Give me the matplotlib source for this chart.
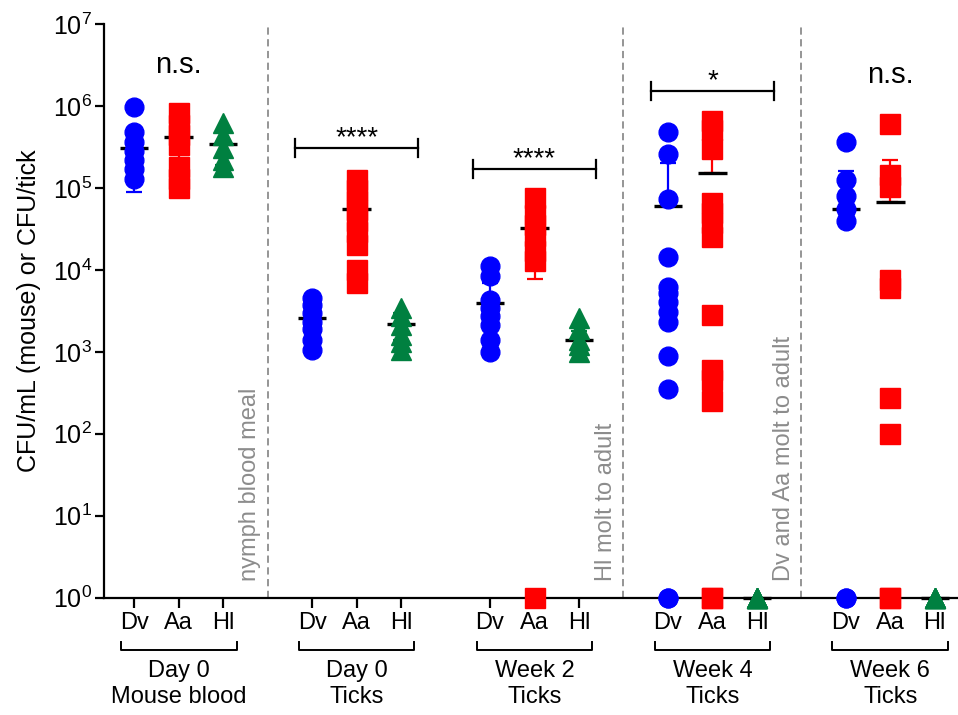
import numpy as np
import matplotlib
matplotlib.use("Agg")
import matplotlib.pyplot as plt
from matplotlib import transforms

plt.rcParams["font.family"] = ["Liberation Sans", "DejaVu Sans"]
plt.rcParams["mathtext.fontset"] = "custom"
plt.rcParams["mathtext.rm"] = "Liberation Sans"
plt.rcParams["mathtext.it"] = "Liberation Sans:italic"
plt.rcParams["mathtext.bf"] = "Liberation Sans:bold"

# ---- data (CFU/mL or CFU/tick; 0 = below detection) ----
species = ["Dv", "Aa", "Hl"]
timepoints = ["Day 0\nMouse blood", "Day 0\nTicks", "Week 2\nTicks", "Week 4\nTicks", "Week 6\nTicks"]

dv_d0_blood = [9.6e5, 4.8e5, 3.6e5, 2.8e5, 2.2e5, 1.7e5, 1.3e5]
aa_d0_blood = [8.3e5, 5.9e5, 4.4e5, 3.3e5, 1.8e5, 1.3e5, 1.0e5]
hl_d0_blood = [6.2e5, 4.4e5, 3.1e5, 2.2e5, 1.8e5]

dv_d0_ticks = [4.5e3, 3.7e3, 3.0e3, 2.3e3, 1.9e3, 1.4e3, 1.05e3]
aa_d0_ticks = [1.25e5, 9.4e4, 7.0e4, 5.4e4, 4.0e4, 2.9e4, 2.0e4, 1.0e4, 7.0e3]
hl_d0_ticks = [3.4e3, 2.7e3, 2.1e3, 1.6e3, 1.3e3, 1.05e3]

dv_w2 = [1.1e4, 8.5e3, 4.3e3, 3.4e3, 2.7e3, 2.1e3, 1.4e3, 1.0e3]
aa_w2 = [7.5e4, 4.7e4, 3.5e4, 2.6e4, 1.7e4, 1.3e4, 0]
hl_w2 = [2.6e3, 1.9e3, 1.4e3, 1.2e3, 1.0e3]

dv_w4 = [4.85e5, 2.6e5, 7.3e4, 1.45e4, 6.2e3, 5.2e3, 4.1e3, 3.1e3, 2.3e3, 8.9e2, 3.5e2, 0, 0]
aa_w4 = [6.6e5, 5.1e5, 3.0e5, 6.6e4, 4.9e4, 3.7e4, 2.5e4, 2.8e3, 6.0e2, 4.5e2, 2.5e2, 0, 0]
hl_w4 = [0, 0, 0, 0, 0, 0]

dv_w6 = [3.6e5, 1.25e5, 7.9e4, 5.6e4, 3.9e4, 0, 0]
aa_w6 = [6.0e5, 1.44e5, 1.03e5, 7.5e3, 6.0e3, 2.7e2, 1.0e2, 0, 0]
hl_w6 = [0, 0, 0, 0, 0]

cfu = [dv_d0_blood, aa_d0_blood, hl_d0_blood,
       dv_d0_ticks, aa_d0_ticks, hl_d0_ticks,
       dv_w2, aa_w2, hl_w2,
       dv_w4, aa_w4, hl_w4,
       dv_w6, aa_w6, hl_w6]

# group mean and error bar extents (lower, upper) as drawn
means = [3.1e5, 4.2e5, 3.4e5, 2.6e3, 5.6e4, 2.2e3, 3.9e3, 3.2e4, 1.4e3,
         6.0e4, 1.5e5, 0, 5.5e4, 6.8e4, 0]
err_lo = [2.2e5, 2.5e5, 1.5e5, 1.2e3, 4.0e4, 8.0e2, 3.0e3, 2.43e4, 4.0e2,
          0, 0, 0, 0, 0, 0]
err_hi = [2.2e5, 2.5e5, 1.5e5, 1.2e3, 4.0e4, 8.0e2, 3.0e3, 2.5e4, 4.0e2,
          1.4e5, 2.5e5, 0, 1.05e5, 1.5e5, 0]

# significance brackets
sig_groups = [1, 2, 3]
sig_y = [3.04e5, 1.69e5, 1.51e6]
sig_text = ["****", "****", "*"]
ns_groups = [0, 4]
ns_y = [3.2e6, 2.4e6]

# vertical event notes, placed after group index
note_after = [0, 2, 3]
note_text = ["nymph blood meal", "Hl molt to adult", "Dv and Aa molt to adult"]

colors = {"Dv": "#0000ff", "Aa": "#ff0000", "Hl": "#008040"}
markers = {"Dv": "o", "Aa": "s", "Hl": "^"}
msize = {"Dv": 13.5, "Aa": 14, "Hl": 15}

fig = plt.figure(figsize=(9.58, 7.15), dpi=100)
ax = fig.add_axes([104 / 958, 1 - 597.7 / 715, 853 / 958, 573.7 / 715])
ax.set_yscale("log")
ax.set_ylim(1, 1e7)
ax.set_xlim(0.32, 19.5)

xpos = []
for g in range(len(timepoints)):
    for k in range(len(species)):
        xpos.append(1 + 4 * g + k)

for i, vals in enumerate(cfu):
    sp = species[i % 3]
    x = xpos[i]
    m = max(means[i], 1)
    if err_lo[i] > 0 or err_hi[i] > 0:
        lo = min(err_lo[i], m - 1)
        ax.errorbar([x], [m], yerr=[[lo], [err_hi[i]]], fmt="none",
                    ecolor=colors[sp], elinewidth=1.6, capsize=6, capthick=1.6,
                    zorder=2, clip_on=False)
    ax.plot([x - 0.32, x + 0.32], [m, m], color="black", lw=2.4, zorder=2.5,
            solid_capstyle="butt", clip_on=False)
    y = np.clip(np.array(vals, dtype=float), 1, None)
    ax.plot(np.full(len(y), x), y, linestyle="none", marker=markers[sp],
            ms=msize[sp], color=colors[sp], mec=colors[sp], zorder=4,
            clip_on=False)

# dashed separators and notes
for j, txt in zip(note_after, note_text):
    xl = 4 * (j + 1)
    ax.axvline(xl, color="#8c8c8c", lw=1.3, ls=(0, (4, 2.5)), zorder=1)
    ax.text(xl - 0.4, 1.6, txt, rotation=90, ha="center", va="bottom",
            fontsize=17, color="#8c8c8c")

# significance brackets
f = 10 ** (9 / 81.96)
for g, yb, t in zip(sig_groups, sig_y, sig_text):
    x0, x1 = 4 * g + 2 - 1.38, 4 * g + 2 + 1.38
    ax.plot([x0, x1], [yb, yb], color="black", lw=1.6, clip_on=False)
    for xe in (x0, x1):
        ax.plot([xe, xe], [yb / f, yb * f], color="black", lw=1.6, clip_on=False)
    ax.text(4 * g + 2, yb * 0.92, t, ha="center", va="bottom", fontsize=20)
for g, yn in zip(ns_groups, ns_y):
    ax.text(4 * g + 2, yn, "n.s.", ha="center", va="center", fontsize=21)

# axes styling
for s in ("top", "right"):
    ax.spines[s].set_visible(False)
for s in ("left", "bottom"):
    ax.spines[s].set_linewidth(1.6)
ax.set_yticks([10.0 ** k for k in range(8)])
ax.set_yticklabels([rf"$\mathregular{{10^{{{k}}}}}$" for k in range(8)])
ax.yaxis.set_minor_locator(matplotlib.ticker.NullLocator())
ax.tick_params(axis="y", length=6.5, width=1.6, labelsize=18, pad=2)
ax.set_xticks(xpos)
ax.set_xticklabels(species * len(timepoints))
ax.tick_params(axis="x", length=7.5, width=1.6, labelsize=17, pad=3)
ax.set_ylabel("CFU/mL (mouse) or CFU/tick", fontsize=18)
ax.yaxis.set_label_coords(-0.074, 0.5)

# group brackets under tick labels
trans = transforms.blended_transform_factory(ax.transData, ax.transAxes)
for g, lab in enumerate(timepoints):
    x0, x1 = 4 * g + 1 - 0.3, 4 * g + 3 + 0.3
    ax.plot([x0, x0, x1, x1], [-0.0767, -0.0912, -0.0912, -0.0767],
            color="black", lw=1.4, transform=trans, clip_on=False)
    ax.text(4 * g + 2, -0.108, lab, transform=trans, ha="center", va="top",
            fontsize=17, linespacing=1.25)

fig.savefig("out.png", dpi=100)
